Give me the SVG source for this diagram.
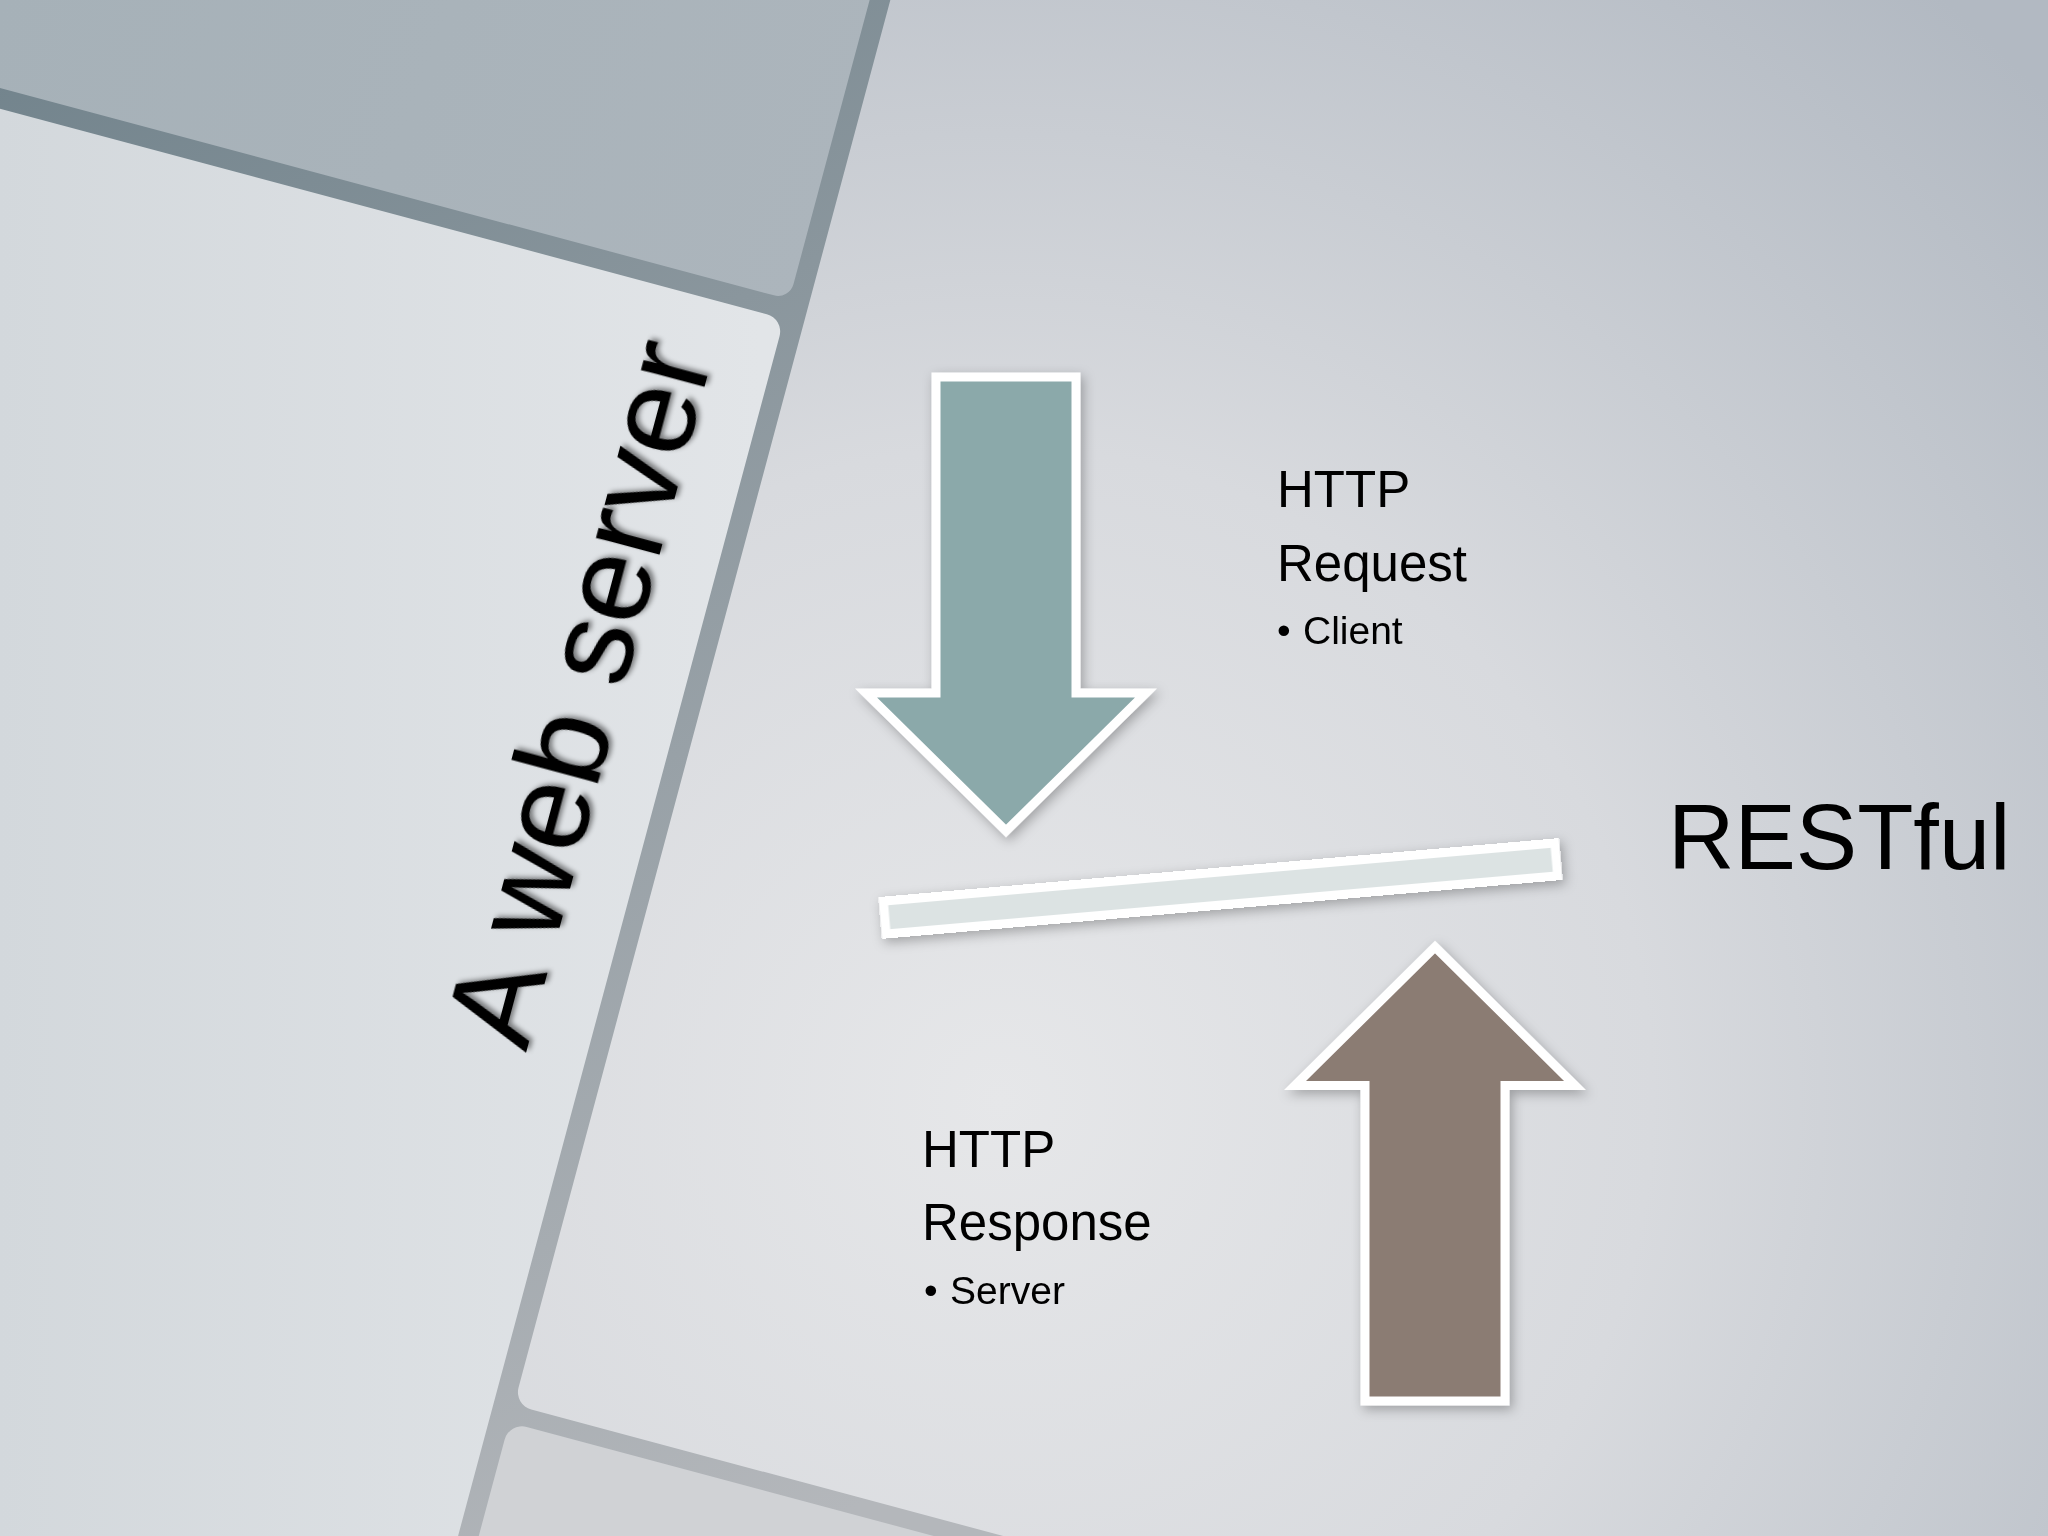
<svg xmlns="http://www.w3.org/2000/svg" width="2048" height="1536" viewBox="0 0 2048 1536">
  <defs>
    <linearGradient id="gapGrad" gradientUnits="userSpaceOnUse" x1="0" y1="0" x2="800" y2="1536">
      <stop offset="0" stop-color="#70828b"/>
      <stop offset="0.35" stop-color="#8a969d"/>
      <stop offset="1" stop-color="#b4b7bb"/>
    </linearGradient>
    <radialGradient id="bgGrad" gradientUnits="userSpaceOnUse" cx="1000" cy="1100" r="1450" gradientTransform="rotate(-15)">
      <stop offset="0" stop-color="#e6e7e9"/>
      <stop offset="0.45" stop-color="#d8dade"/>
      <stop offset="1" stop-color="#b2b9c2"/>
    </radialGradient>
    <linearGradient id="tileAGrad" gradientUnits="userSpaceOnUse" x1="0" y1="0" x2="800" y2="300" gradientTransform="rotate(-15)">
      <stop offset="0" stop-color="#a6b1b8"/>
      <stop offset="1" stop-color="#acb5bc"/>
    </linearGradient>
    <linearGradient id="tileBGrad" gradientUnits="userSpaceOnUse" x1="0" y1="0" x2="760" y2="0" gradientTransform="rotate(-15)">
      <stop offset="0" stop-color="#d3d8dc"/>
      <stop offset="1" stop-color="#e2e5e8"/>
    </linearGradient>
    <filter id="shadow" x="-20%" y="-20%" width="140%" height="140%">
      <feDropShadow dx="3" dy="4" stdDeviation="6" flood-color="#000" flood-opacity="0.28"/>
    </filter>
    <filter id="textShadow" x="-10%" y="-10%" width="120%" height="120%">
      <feDropShadow dx="3" dy="3" stdDeviation="2.5" flood-color="#000" flood-opacity="0.45"/>
    </filter>
  </defs>
  <style>
    .lbl { font-family: "Liberation Sans", Arial, sans-serif; fill: #000; }
    .head { font-size: 51px; }
    .sub { font-size: 39px; }
    .arrow { stroke: #ffffff; stroke-width: 9; stroke-linejoin: miter; stroke-miterlimit: 10; }
  </style>

  <!-- background gaps -->
  <rect id="gaps" x="0" y="0" width="2048" height="1536" fill="url(#gapGrad)"/>

  <!-- rotated tile grid -->
  <g id="tiles" transform="rotate(15)">
    <rect id="tileA" x="-400" y="-900" width="1240" height="985" rx="16" fill="url(#tileAGrad)"/>
    <rect id="tileB" x="-400" y="105" width="1240" height="2000" rx="18" fill="url(#tileBGrad)"/>
    <rect id="tileC" x="860" y="-900" width="3000" height="2124" rx="18" fill="url(#bgGrad)"/>
    <rect id="tileD" x="860" y="1242" width="3000" height="1000" rx="18" fill="#d0d2d5"/>
  </g>

  <!-- vertical title -->
  <g id="title">
    <text class="lbl" font-size="125" transform="translate(526,1053) rotate(-75)" filter="url(#textShadow)">A web server</text>
  </g>

  <!-- connectors: arrows and bar -->
  <g id="connectors" filter="url(#shadow)">
    <polygon id="requestArrow" class="arrow" fill="#8ba9aa" points="936,377 1076,377 1076,693 1146,693 1006,831 866,693 936,693"/>
    <rect id="bar" x="-337" y="-16.5" width="674" height="33" fill="#dce3e3" stroke="#ffffff" stroke-width="9" transform="translate(1220.5,888.5) rotate(-4.95)"/>
    <polygon id="responseArrow" class="arrow" fill="#8b7b73" points="1435,947 1575,1085.5 1505,1085.5 1505,1401 1365,1401 1365,1085.5 1295,1085.5"/>
  </g>

  <!-- request label -->
  <g id="requestLabel">
    <text class="lbl head" x="1277" y="507">HTTP</text>
    <text class="lbl head" x="1277" y="581">Request</text>
    <text class="lbl sub" y="644"><tspan x="1277">•</tspan><tspan x="1303">Client</tspan></text>
  </g>

  <!-- response label -->
  <g id="responseLabel">
    <text class="lbl head" x="922" y="1167">HTTP</text>
    <text class="lbl head" x="922" y="1240">Response</text>
    <text class="lbl sub" y="1304"><tspan x="924">•</tspan><tspan x="950">Server</tspan></text>
  </g>

  <!-- RESTful -->
  <g id="restful">
    <text class="lbl" font-size="92" x="1668" y="869">RESTful</text>
  </g>
</svg>
